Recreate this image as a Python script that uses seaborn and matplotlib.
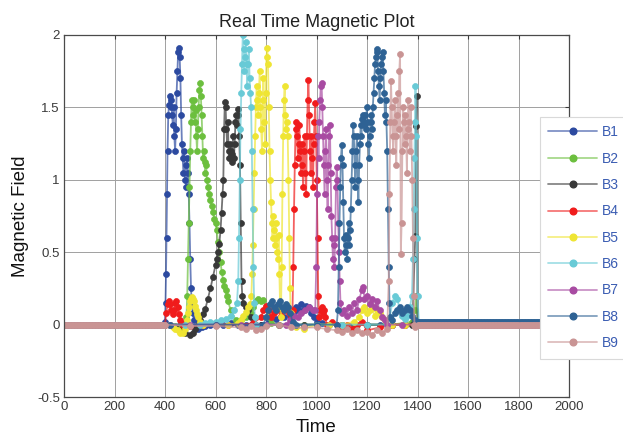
import matplotlib
matplotlib.use('Agg')
import matplotlib.pyplot as plt
from matplotlib.lines import Line2D
from matplotlib.colors import to_rgba
import seaborn as sns

# ---------------- data ----------------
names = ['B1', 'B2', 'B3', 'B4', 'B5', 'B6', 'B7', 'B8', 'B9']
colors = ['#2c4aa0', '#6cbf3e', '#383838', '#f01c1c', '#efe533',
          '#68cad6', '#a84ba2', '#2e6294', '#c99494']

# quiet stretches (all signals idle) before 400 and after 1400
idle_head_t = list(range(0, 400, 6))
idle_tail_t = list(range(1406, 2001, 6))
head_level = [0.0, 0.0, 0.0, 0.0, 0.0, 0.0, 0.0, 0.0, 0.0]
tail_level = [0.0, 0.0, 0.0, 0.0, 0.0, 0.0, 0.0, 0.015, -0.005]

t1 = [400, 402, 404, 406, 408, 410, 413, 416, 419, 422, 425, 428, 431, 434, 437, 440, 443, 446, 449, 452,
      455, 458, 461, 464, 467, 470, 473, 476, 479, 482, 485, 488, 491, 494, 497, 500, 503, 506,
      510, 515, 520, 530, 545, 560, 580, 600, 630, 660, 690, 720, 750, 780, 810, 840, 870, 900,
      910, 920, 930, 940, 950, 960, 970, 980, 990, 1000,
      1020, 1050, 1100, 1150, 1200, 1250, 1300, 1350, 1400]
v1 = [0.02, 0.15, 0.35, 0.6, 0.9, 1.2, 1.45, 1.52, 1.58, 1.5, 1.55, 1.45, 1.38, 1.5, 1.3, 1.2, 1.35, 1.6, 1.75, 1.88,
      1.91, 1.85, 1.7, 1.45, 1.25, 1.15, 1.05, 1.2, 1.0, 1.1, 0.95, 1.15, 1.05, 0.9, 0.7, 0.45, 0.25, 0.15,
      0.08, 0.03, -0.02, -0.03, -0.02, -0.01, 0.0, 0.0, 0.0, 0.01, 0.0, 0.0, 0.01, 0.0, 0.02, 0.04, 0.05, 0.06,
      0.09, 0.12, 0.1, 0.14, 0.1, 0.13, 0.12, 0.08, 0.05, 0.02,
      0.01, 0.0, 0.0, 0.0, 0.0, 0.0, 0.0, 0.0, 0.0]

t2 = [420, 440, 460, 480, 485, 488, 491, 494, 497, 500, 503, 506, 509, 512, 515, 518, 521, 524, 527, 530,
      533, 536, 539, 542, 545, 548, 551, 554, 557, 560, 563, 566, 570, 575, 580, 585, 590, 595, 600, 605,
      610, 615, 620, 625, 630, 635, 640, 645, 650, 660, 680, 700, 720, 740, 750, 760, 770, 780, 790, 800,
      810, 820, 850, 900, 950, 1000, 1100, 1200, 1300, 1380, 1390, 1395, 1400]
v2 = [0.0, -0.01, 0.0, 0.01, 0.05, 0.2, 0.45, 0.7, 0.95, 1.2, 1.4, 1.55, 1.5, 1.45, 1.55, 1.4, 1.48, 1.3, 1.2, 1.35,
      1.5, 1.62, 1.67, 1.58, 1.45, 1.3, 1.15, 1.2, 1.12, 1.05, 1.1, 1.0, 0.95, 0.9, 0.86, 0.82, 0.78, 0.73, 0.7, 0.65,
      0.57, 0.5, 0.43, 0.36, 0.31, 0.27, 0.24, 0.2, 0.16, 0.1, 0.03, 0.03, 0.05, 0.08, 0.12, 0.16, 0.18, 0.16, 0.17, 0.12,
      0.05, 0.01, 0.0, 0.0, 0.0, 0.0, 0.0, 0.0, 0.0, 0.02, 0.1, 0.2, 0.0]

t3 = [420, 440, 460, 480, 500, 510, 520, 530, 540, 550, 560, 570, 580, 590, 600, 605, 610, 615, 620, 624,
      628, 631, 634, 637, 640, 643, 646, 649, 652, 655, 658, 661, 664, 667, 670, 673, 676, 679, 682, 685,
      688, 691, 694, 697, 700, 703, 706, 710, 720, 730, 740, 760, 780, 800, 850, 900, 950, 1000, 1100, 1200,
      1300, 1380, 1388, 1391, 1394, 1397, 1400]
v3 = [0.0, -0.02, -0.04, -0.06, -0.07, -0.06, -0.03, 0.0, 0.03, 0.07, 0.11, 0.18, 0.25, 0.33, 0.41, 0.45, 0.5, 0.56, 0.65, 0.77,
      0.9, 1.0, 1.35, 1.54, 1.5, 1.35, 1.25, 1.4, 1.2, 1.15, 1.25, 1.2, 1.12, 1.18, 1.3, 1.15, 1.25, 1.4, 1.45, 1.38,
      1.49, 1.45, 1.3, 1.1, 0.7, 0.3, 0.2, 0.15, 0.12, 0.1, 0.05, 0.0, 0.0, 0.0, 0.0, 0.0, 0.0, 0.0, 0.0, 0.0,
      0.0, 0.0, 0.45, 0.61, 1.37, 1.58, 0.0]

t4 = [400, 405, 410, 415, 420, 425, 430, 435, 440, 445, 450, 455, 460, 465, 470, 480, 500, 550, 600, 650,
      700, 750, 780, 790, 800, 810, 820, 830, 840, 850, 860, 870, 880, 890, 900, 905, 908, 911, 914, 917,
      920, 923, 926, 929, 932, 935, 938, 941, 944, 947, 950, 953, 956, 959, 962, 965, 968, 971, 974, 977,
      980, 983, 986, 989, 992, 995, 998, 1001, 1004, 1007, 1010, 1015, 1020, 1025, 1030, 1035, 1040, 1060, 1080, 1100,
      1120, 1140, 1160, 1180, 1200, 1250, 1300, 1350, 1400]
v4 = [0.0, 0.08, 0.14, 0.16, 0.14, 0.1, 0.07, 0.1, 0.15, 0.16, 0.12, 0.07, 0.03, 0.01, 0.0, -0.01, -0.01, 0.0, 0.0, 0.0,
      0.0, 0.01, 0.05, 0.1, 0.13, 0.1, 0.05, 0.08, 0.12, 0.1, 0.06, 0.1, 0.12, 0.08, 0.05, 0.1, 0.4, 0.8, 1.1, 1.35,
      1.4, 1.3, 1.15, 1.25, 1.38, 1.2, 1.05, 1.25, 1.1, 0.95, 1.2, 1.3, 1.05, 0.9, 1.3, 1.55, 1.69, 1.45, 1.2, 1.05,
      1.3, 1.15, 0.95, 1.25, 1.4, 1.53, 1.3, 1.0, 0.6, 0.2, 0.05, 0.1, 0.12, 0.08, 0.1, 0.05, 0.0, 0.02, 0.0, -0.02,
      0.0, -0.03, 0.0, 0.02, -0.04, -0.02, 0.0, 0.0, 0.0]

t5 = [420, 430, 440, 450, 460, 470, 480, 486, 490, 494, 498, 502, 506, 510, 514, 518, 522, 526, 530, 540,
      550, 600, 650, 690, 700, 710, 720, 730, 738, 742, 745, 748, 751, 754, 757, 760, 763, 766, 769, 772,
      775, 778, 781, 784, 787, 790, 793, 796, 799, 802, 805, 808, 811, 814, 817, 820, 823, 826, 829, 832,
      835, 838, 841, 844, 847, 850, 853, 856, 859, 862, 865, 868, 871, 874, 877, 880, 883, 886, 889, 892,
      895, 898, 905, 920, 950, 1000, 1050, 1100, 1150, 1170, 1180, 1190, 1200, 1210, 1220, 1230, 1240, 1250, 1260, 1270,
      1280, 1300, 1350, 1400]
v5 = [0.0, -0.02, -0.03, -0.04, -0.06, -0.06, -0.03, 0.03, 0.08, 0.12, 0.16, 0.18, 0.19, 0.18, 0.16, 0.13, 0.1, 0.07, 0.05, 0.02,
      0.0, 0.0, 0.0, 0.01, 0.03, 0.06, 0.09, 0.12, 0.14, 0.2, 0.35, 0.55, 0.8, 1.05, 1.3, 1.5, 1.65, 1.55, 1.45, 1.6,
      1.75, 1.5, 1.35, 1.2, 1.55, 1.7, 1.4, 1.25, 1.6, 1.85, 1.91, 1.8, 1.5, 1.2, 1.0, 0.85, 0.7, 0.6, 0.75, 0.65,
      0.55, 0.7, 0.6, 0.5, 0.45, 0.62, 0.35, 0.12, 0.05, 0.4, 0.9, 1.3, 1.55, 1.65, 1.45, 1.35, 1.4, 1.3, 1.0, 0.6,
      0.25, 0.08, 0.0, -0.02, -0.03, 0.0, 0.0, 0.0, 0.02, 0.05, 0.1, 0.12, 0.08, 0.1, 0.12, 0.06, 0.1, 0.08, 0.05, 0.03,
      0.0, 0.0, 0.0, 0.0]

t6 = [420, 480, 540, 560, 580, 600, 620, 640, 660, 675, 685, 690, 693, 696, 699, 702, 705, 708, 711, 714,
      717, 720, 723, 726, 729, 732, 735, 738, 741, 744, 747, 750, 753, 756, 762, 800, 900, 1000, 1100, 1200,
      1280, 1290, 1300, 1310, 1320, 1330, 1340, 1350, 1360, 1370, 1378, 1382, 1385, 1388, 1390, 1392, 1395, 1398, 1400]
v6 = [0.0, 0.0, 0.0, 0.01, 0.02, 0.02, 0.03, 0.04, 0.06, 0.1, 0.15, 0.3, 0.6, 1.0, 1.35, 1.6, 1.8, 2.0, 1.9, 1.75,
      1.85, 1.95, 1.8, 1.65, 1.8, 1.9, 1.7, 1.6, 1.5, 1.2, 0.8, 0.4, 0.15, 0.05, 0.0, 0.0, 0.0, 0.0, 0.0, 0.0,
      0.0, 0.05, 0.15, 0.2, 0.18, 0.1, 0.06, 0.04, 0.06, 0.12, 0.2, 0.45, 0.8, 1.15, 1.4, 1.65, 1.3, 0.6, 0.2]

t7 = [420, 500, 600, 700, 800, 880, 895, 910, 925, 940, 955, 970, 985, 995, 999, 1002, 1005, 1008, 1011, 1014,
      1017, 1020, 1023, 1026, 1029, 1032, 1035, 1038, 1041, 1044, 1047, 1050, 1053, 1056, 1059, 1062, 1065, 1068, 1071, 1074,
      1077, 1080, 1083, 1086, 1089, 1092, 1095, 1100, 1110, 1120, 1130, 1140, 1150, 1160, 1170, 1180, 1185, 1190, 1200, 1210,
      1220, 1230, 1240, 1250, 1260, 1270, 1280, 1340, 1400]
v7 = [0.0, 0.0, 0.0, 0.0, 0.0, 0.0, 0.03, 0.06, 0.05, 0.08, 0.1, 0.12, 0.1, 0.1, 0.4, 0.9, 1.3, 1.15, 1.4, 1.55,
      1.65, 1.67, 1.5, 1.3, 1.1, 0.9, 1.2, 1.35, 1.0, 0.8, 1.1, 1.3, 1.38, 1.05, 0.75, 0.6, 0.45, 0.55, 0.4, 0.6,
      0.95, 1.09, 1.0, 0.7, 0.5, 0.3, 0.15, 0.08, 0.1, 0.06, 0.12, 0.08, 0.15, 0.1, 0.18, 0.24, 0.26, 0.18, 0.2, 0.14,
      0.18, 0.12, 0.16, 0.1, 0.05, 0.03, 0.0, 0.0, 0.0]

t8 = [420, 600, 790, 800, 808, 816, 824, 832, 840, 848, 856, 864, 872, 880, 888, 896, 905, 920, 1000, 1080,
      1085, 1088, 1091, 1094, 1097, 1100, 1103, 1106, 1109, 1112, 1115, 1118, 1121, 1124, 1127, 1130, 1133, 1136, 1139, 1142,
      1145, 1148, 1151, 1154, 1157, 1160, 1163, 1166, 1169, 1172, 1175, 1178, 1181, 1184, 1187, 1190, 1193, 1196, 1199, 1202,
      1205, 1208, 1211, 1214, 1217, 1220, 1223, 1226, 1229, 1232, 1235, 1238, 1241, 1244, 1247, 1250, 1253, 1256, 1259, 1262,
      1265, 1268, 1271, 1274, 1277, 1280, 1283, 1286, 1289, 1292, 1300, 1310, 1320, 1330, 1340, 1350, 1360, 1370, 1380, 1390,
      1400]
v8 = [0.0, 0.0, 0.0, 0.05, 0.1, 0.14, 0.16, 0.12, 0.1, 0.14, 0.16, 0.12, 0.1, 0.14, 0.12, 0.08, 0.02, 0.0, 0.0, 0.0,
      0.1, 0.4, 0.7, 0.95, 1.15, 1.24, 1.1, 0.85, 0.6, 0.5, 0.62, 0.55, 0.45, 0.6, 0.7, 0.55, 0.65, 0.8, 1.0, 1.2,
      1.38, 1.3, 1.1, 0.95, 1.2, 1.3, 1.0, 0.85, 1.1, 1.25, 1.38, 1.3, 1.42, 1.45, 1.4, 1.38, 1.45, 1.35, 1.5, 1.4,
      1.25, 1.15, 1.3, 1.4, 1.45, 1.35, 1.5, 1.6, 1.7, 1.8, 1.85, 1.9, 1.88, 1.75, 1.65, 1.55, 1.7, 1.8, 1.85, 1.88,
      1.75, 1.6, 1.45, 1.55, 1.4, 1.2, 0.8, 0.4, 0.15, 0.05, 0.03, 0.08, 0.1, 0.12, 0.08, 0.1, 0.12, 0.1, 0.06, 0.03,
      0.015]

t9 = [400, 500, 600, 700, 720, 740, 760, 780, 800, 850, 900, 950, 1000, 1040, 1080, 1100, 1120, 1140, 1160, 1180,
      1200, 1220, 1240, 1260, 1280, 1286, 1289, 1292, 1295, 1298, 1301, 1304, 1307, 1310, 1313, 1316, 1319, 1322, 1325, 1328,
      1331, 1334, 1337, 1340, 1343, 1346, 1349, 1352, 1355, 1358, 1361, 1364, 1367, 1370, 1373, 1376, 1379, 1382, 1385, 1388,
      1391, 1400]
v9 = [0.0, -0.01, -0.01, -0.02, -0.03, -0.01, -0.04, -0.03, -0.01, 0.0, -0.02, -0.02, -0.02, -0.03, -0.04, -0.05, -0.03, -0.06, -0.04, -0.06,
      -0.05, -0.07, -0.04, -0.06, -0.03, 0.3, 0.9, 1.4, 1.68, 1.5, 1.3, 1.2, 1.4, 1.55, 1.3, 1.1, 1.45, 1.6, 1.35, 1.75,
      1.87, 0.49, 0.7, 1.2, 1.5, 1.4, 1.25, 1.45, 1.3, 1.05, 1.35, 1.55, 1.4, 1.2, 1.5, 1.3, 1.0, 0.6, 0.2, 0.0,
      -0.02, -0.005]

times = [t1, t2, t3, t4, t5, t6, t7, t8, t9]
values = [v1, v2, v3, v4, v5, v6, v7, v8, v9]

x_ticks = [0, 200, 400, 600, 800, 1000, 1200, 1400, 1600, 1800, 2000]
y_ticks = [-0.5, 0, 0.5, 1, 1.5, 2]
y_tick_labels = ['-0.5', '0', '0.5', '1', '1.5', '2']

# ---------------- plot ----------------
sns.set_theme(style='white')
plt.rcParams['font.family'] = ['Liberation Sans', 'DejaVu Sans']

W, H = 623, 437
fig = plt.figure(figsize=(W / 100, H / 100), dpi=100, facecolor='white')
ax = fig.add_axes([64 / W, 1 - 397 / H, (569 - 64) / W, (397 - 35) / H])

ms = 4.3
handles = []
for name, col, t, v, h0, t0 in zip(names, colors, times, values, head_level, tail_level):
    tt = idle_head_t + t + idle_tail_t
    vv = [h0] * len(idle_head_t) + v + [t0] * len(idle_tail_t)
    line_col = to_rgba(col, 0.7)
    sns.lineplot(x=tt, y=vv, ax=ax, sort=False, estimator=None, color=line_col,
                 marker='o', markersize=ms, markerfacecolor=col, markeredgecolor=col,
                 markeredgewidth=0.5, linewidth=1.3, legend=False)
    handles.append(Line2D([], [], color=to_rgba(col, 0.6), marker='o', markersize=4.8,
                          markerfacecolor=col, markeredgecolor=col, linewidth=1.3))

ax.set_xlim(0, 2000)
ax.set_ylim(-0.5, 2)
ax.set_xticks(x_ticks)
ax.set_xticklabels([str(x) for x in x_ticks])
ax.set_yticks(y_ticks)
ax.set_yticklabels(y_tick_labels)
ax.grid(True, color='#a0a0a0', linewidth=0.7)
ax.set_axisbelow(True)
ax.tick_params(direction='in', top=True, right=True, length=3, width=0.8,
               labelsize=9.5, colors='#3a3a3a', pad=3)
for s in ax.spines.values():
    s.set_visible(True)
    s.set_color('#4a4a4a')
    s.set_linewidth(0.9)

ax.set_title('Real Time Magnetic Plot', fontsize=13, color='#222222', pad=6)
ax.set_xlabel('Time', fontsize=13.5, color='#111111', labelpad=4)
ax.set_ylabel('Magnetic Field', fontsize=13.5, color='#111111', labelpad=6)

leg = fig.legend(handles, names, loc='upper left',
                 bbox_to_anchor=(540 / W, 1 - 117 / H), bbox_transform=fig.transFigure,
                 frameon=True, fancybox=False, framealpha=1, edgecolor='#d9d9d9',
                 fontsize=10, labelcolor='#3a5cb2', handlelength=3.5, handletextpad=0.35,
                 labelspacing=0.89, borderpad=0.6, borderaxespad=0)
leg.get_frame().set_linewidth(0.8)

fig.savefig('out.png', dpi=100, facecolor='white')
